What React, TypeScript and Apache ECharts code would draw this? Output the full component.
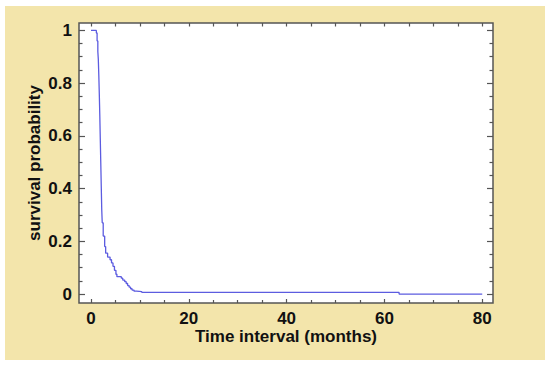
import React, { useEffect, useRef } from "react";
import * as echarts from "echarts";

// Kaplan-Meier survival curve: [time (months), survival probability]
const survivalTimes = [
  0, 1.1, 1.25, 1.4, 1.5, 1.6, 1.7, 1.8, 1.9, 2.0, 2.1, 2.2, 2.3, 2.5, 2.8, 3.0, 3.4, 3.9, 4.2, 4.5,
  4.8, 5.1, 5.3, 6.2, 6.5, 6.9, 7.2, 7.5, 7.8, 8.1, 8.4, 8.8, 9.3, 10.4, 63, 80,
];
const survivalValues = [
  1, 0.99, 0.96, 0.92, 0.89, 0.83, 0.76, 0.68, 0.59, 0.5, 0.41, 0.32, 0.27, 0.22, 0.18, 0.155, 0.14,
  0.13, 0.118, 0.105, 0.09, 0.075, 0.066, 0.06, 0.053, 0.047, 0.04, 0.032, 0.026, 0.02, 0.015, 0.011,
  0.009, 0.006, 0, 0,
];

const xMajorTicks = [0, 20, 40, 60, 80];
const xMinorTicks = [5, 10, 15, 25, 30, 35, 45, 50, 55, 65, 70, 75];
const yMajorTicks = [0, 0.2, 0.4, 0.6, 0.8, 1];
const yMinorTicks = [0.05, 0.1, 0.15, 0.25, 0.3, 0.35, 0.45, 0.5, 0.55, 0.65, 0.7, 0.75, 0.85, 0.9, 0.95];

const xTitle = "Time interval (months)";
const yTitle = "survival probability";

const X_MIN = -2.45;
const X_MAX = 82.2;
const Y_MIN = -0.034;
const Y_MAX = 1.028;

const FRAME = "#555555";
const LABEL_FONT = "Liberation Sans, Arial, sans-serif";

export default function App() {
  const ref = useRef<HTMLDivElement>(null);

  useEffect(() => {
    if (!ref.current) return;
    const chart = echarts.init(ref.current, undefined, { renderer: "svg" });

    const tickAxisBase = (pos: string, values: number[], len: number) => ({
      position: pos,
      axisLine: { show: false, onZero: false },
      axisTick: {
        show: true,
        inside: true,
        length: len,
        customValues: values,
        lineStyle: { color: FRAME, width: 1.2 },
      },
      splitLine: { show: false },
    });

    const xBase = { type: "value", min: X_MIN, max: X_MAX };
    const yBase = { type: "value", min: Y_MIN, max: Y_MAX };

    const option: any = {
      animation: false,
      backgroundColor: "#ffffff",
      graphic: [
        {
          type: "rect",
          z: -10,
          silent: true,
          shape: { x: 5, y: 6, width: 540, height: 354 },
          style: { fill: "#f3e5ab" },
        },
      ],
      grid: {
        left: 79,
        top: 23,
        width: 414,
        height: 280,
        show: true,
        backgroundColor: "#ffffff",
        borderColor: FRAME,
        borderWidth: 1.5,
        containLabel: false,
      },
      xAxis: [
        {
          ...xBase,
          ...tickAxisBase("bottom", xMajorTicks, 4),
          axisLabel: {
            show: true,
            customValues: xMajorTicks,
            margin: 7,
            fontSize: 17,
            fontWeight: "bold",
            fontFamily: LABEL_FONT,
            color: "#111111",
          },
          name: xTitle,
          nameLocation: "middle",
          nameGap: 25,
          nameMoveOverlap: false,
          nameTextStyle: {
            fontSize: 17,
            fontWeight: "bold",
            fontFamily: LABEL_FONT,
            color: "#111111",
          },
        },
        {
          ...xBase,
          ...tickAxisBase("bottom", xMinorTicks, 3),
          axisLabel: { show: false },
        },
        {
          ...xBase,
          ...tickAxisBase("top", xMajorTicks.concat(xMinorTicks), 3.5),
          axisLabel: { show: false },
        },
      ],
      yAxis: [
        {
          ...yBase,
          ...tickAxisBase("left", yMajorTicks, 6),
          axisLabel: {
            show: true,
            customValues: yMajorTicks,
            margin: 7,
            fontSize: 17,
            fontWeight: "bold",
            fontFamily: LABEL_FONT,
            color: "#111111",
            formatter: (v: number) => String(Math.round(v * 10) / 10),
          },
          name: yTitle,
          nameLocation: "middle",
          nameGap: 36,
          nameMoveOverlap: false,
          nameTextStyle: {
            fontSize: 17,
            fontWeight: "bold",
            fontFamily: LABEL_FONT,
            color: "#111111",
          },
        },
        {
          ...yBase,
          ...tickAxisBase("left", yMinorTicks, 3.5),
          axisLabel: { show: false },
        },
        {
          ...yBase,
          ...tickAxisBase("right", yMajorTicks, 6),
          axisLabel: { show: false },
        },
        {
          ...yBase,
          ...tickAxisBase("right", yMinorTicks, 3.5),
          axisLabel: { show: false },
        },
      ],
      series: [
        {
          type: "line",
          xAxisIndex: 0,
          yAxisIndex: 0,
          step: "end",
          showSymbol: false,
          symbol: "none",
          lineStyle: { color: "#5c5ce0", width: 1.3 },
          data: survivalTimes.map((t, i) => [t, survivalValues[i]]),
          z: 5,
        },
      ],
    };

    chart.setOption(option);
    return () => chart.dispose();
  }, []);

  return (
    <div
      ref={ref}
      style={{ position: "fixed", left: 0, top: 0, width: 550, height: 369 }}
    />
  );
}
